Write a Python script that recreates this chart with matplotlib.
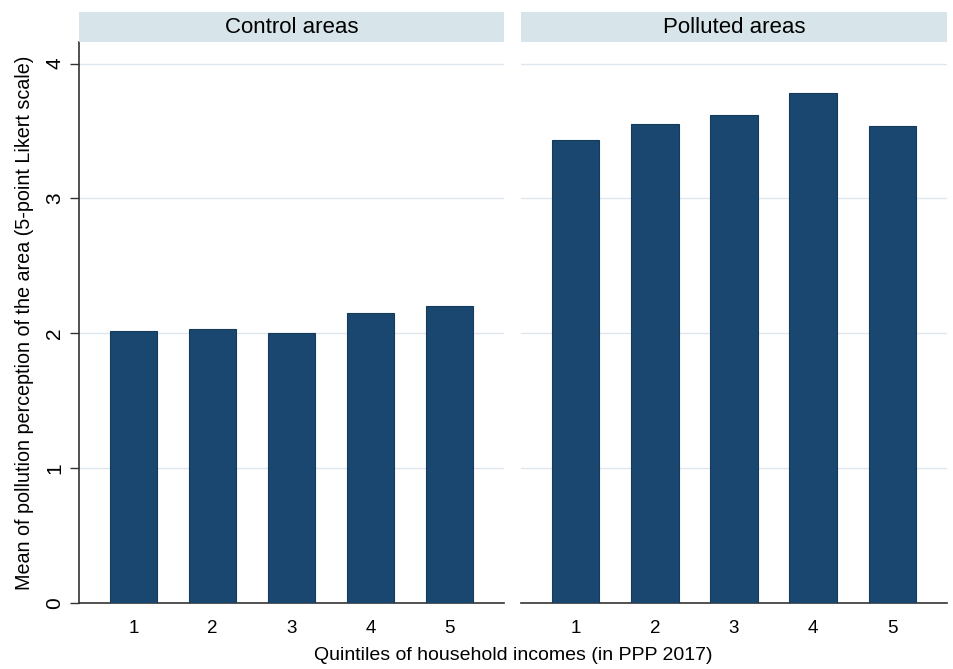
import matplotlib
matplotlib.use('Agg')
import matplotlib.pyplot as plt
import numpy as np

plt.rcParams['font.family'] = ['Liberation Sans', 'DejaVu Sans']

quintiles = [1, 2, 3, 4, 5]
quintile_labels = ['1', '2', '3', '4', '5']
panels = ['Control areas', 'Polluted areas']
control = [2.02, 2.03, 2.00, 2.15, 2.20]
polluted = [3.43, 3.55, 3.62, 3.78, 3.54]
yticks = [0, 1, 2, 3, 4]

bar_color = '#1a476f'
strip_color = '#d7e4ea'
grid_color = '#dde6ee'

fig = plt.figure(figsize=(9.54, 6.69), dpi=100)

W, H = 954.0, 669.0
top, bottom = 42, 603
lefts = [(79, 504), (521, 947)]

for i, (name, vals) in enumerate(zip(panels, [control, polluted])):
    x0, x1 = lefts[i]
    ax = fig.add_axes([x0 / W, (H - bottom) / H, (x1 - x0) / W, (bottom - top) / H])
    ax.bar(quintiles, vals, width=0.6, color=bar_color, edgecolor='#153b5c', linewidth=0.8, zorder=3)
    ax.set_xlim(0.31, 5.69)
    ax.set_ylim(0, 4.16)
    for g in yticks[1:]:
        ax.axhline(g, color=grid_color, lw=1.0, zorder=1)
    ax.set_xticks(quintiles)
    ax.set_xticklabels(quintile_labels, fontsize=13.5)
    ax.tick_params(axis='x', length=0, pad=12)
    for s in ['top', 'right']:
        ax.spines[s].set_visible(False)
    ax.spines['bottom'].set_color('#333333')
    ax.spines['bottom'].set_linewidth(1.2)
    if i == 0:
        ax.set_yticks(yticks)
        ax.set_yticklabels([str(t) for t in yticks], fontsize=15, rotation=90, va='center')
        ax.tick_params(axis='y', length=6.5, width=1, color='#333333', pad=4)
        ax.spines['left'].set_color('#333333')
        ax.spines['left'].set_linewidth(1.2)
        ax.set_ylabel('Mean of pollution perception of the area (5-point Likert scale)',
                      fontsize=14.2, labelpad=8)
    else:
        ax.set_yticks([])
        ax.spines['left'].set_visible(False)
    # strip title
    sax = fig.add_axes([x0 / W, (H - top) / H, (x1 - x0) / W, 30 / H])
    sax.set_facecolor(strip_color)
    sax.set_xticks([])
    sax.set_yticks([])
    for s in sax.spines.values():
        s.set_visible(False)
    sax.text(0.5, 0.47, name, ha='center', va='center', fontsize=16, transform=sax.transAxes)

fig.text((79 + 947) / 2 / W, 1 - 655 / H, 'Quintiles of household incomes (in PPP 2017)',
         ha='center', va='center', fontsize=14)

fig.savefig('out.png', dpi=100, facecolor='white')
